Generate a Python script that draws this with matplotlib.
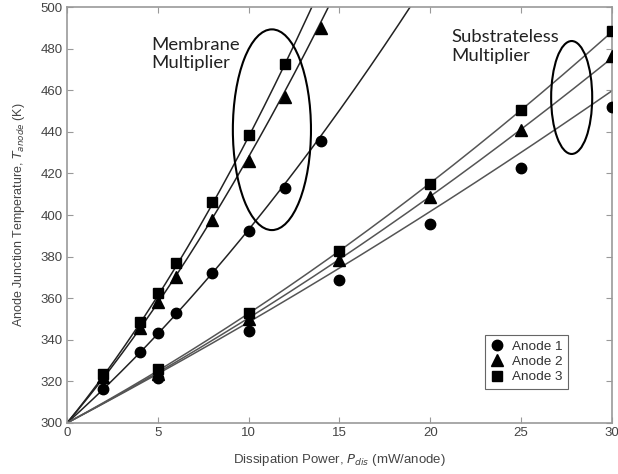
import numpy as np
import matplotlib
matplotlib.use("Agg")
import matplotlib.pyplot as plt
from matplotlib.patches import Ellipse

# ---- data ----
labels = ["Anode 1", "Anode 2", "Anode 3"]
markers = ["o", "^", "s"]

# Membrane multiplier measurements
mem_x1 = [2, 4, 5, 6, 8, 10, 12, 14]
mem_y1 = [316.3, 334.3, 343.1, 352.7, 372.0, 392.3, 413.1, 435.6]
mem_x2 = [2, 4, 5, 6, 8, 10, 12, 14]
mem_y2 = [322.0, 345.5, 358.0, 370.3, 397.6, 426.0, 456.9, 489.7]
mem_x3 = [2, 4, 5, 6, 8, 10, 12]
mem_y3 = [323.4, 348.7, 362.3, 376.8, 406.4, 438.5, 472.6]

# Substrateless multiplier measurements
sub_x = [5, 10, 15, 20, 25, 30]
sub_y1 = [321.8, 344.2, 368.8, 395.7, 422.4, 452.1]
sub_y2 = [323.5, 350.0, 378.4, 408.7, 440.9, 476.4]
sub_y3 = [325.8, 352.7, 382.7, 414.9, 450.5, 488.6]

# Model curves: T = T0 + a*P + b*P^2
T0 = 300.0
mem_a = [7.85, 10.3, 10.7]
mem_b = [0.145, 0.25, 0.307]
sub_a = [4.61, 4.65, 4.77]
sub_b = [0.0238, 0.040, 0.050]

fig = plt.figure(figsize=(6.18, 4.74), dpi=100)
ax = fig.add_axes([0.1084, 0.1076, 0.8819, 0.8776])

P_mem = np.linspace(0, 20, 300)
P_sub = np.linspace(0, 30, 300)
for a, b in zip(mem_a, mem_b):
    ax.plot(P_mem, T0 + a * P_mem + b * P_mem ** 2, color="#222222", lw=1.1, zorder=2)
for a, b in zip(sub_a, sub_b):
    ax.plot(P_sub, T0 + a * P_sub + b * P_sub ** 2, color="#555555", lw=1.1, zorder=2)

mem_sets = [(mem_x1, mem_y1), (mem_x2, mem_y2), (mem_x3, mem_y3)]
sub_sets = [sub_y1, sub_y2, sub_y3]
handles = []
for (mx, my), sy, m, lab in zip(mem_sets, sub_sets, markers, labels):
    ms = 7.5 if m != "^" else 8
    h, = ax.plot(mx, my, linestyle="none", marker=m, color="black", ms=ms, label=lab, zorder=3)
    ax.plot(sub_x, sy, linestyle="none", marker=m, color="black", ms=ms, zorder=3)
    handles.append(h)

# Ellipses
ax.add_patch(Ellipse((11.28, 441), 4.3, 96.5, fill=False, ec="black", lw=1.5, zorder=4))
ax.add_patch(Ellipse((27.78, 456.5), 2.26, 54.3, fill=False, ec="black", lw=1.5, zorder=4))

anno_font = ["Lato", "DejaVu Sans"]
ax.text(4.66, 485.8, "Membrane\nMultiplier", fontsize=13.3, family=anno_font,
        color="#222222", va="top", ha="left", linespacing=1.22)
ax.text(21.15, 489.3, "Substrateless\nMultiplier", fontsize=13.3, family=anno_font,
        color="#222222", va="top", ha="left", linespacing=1.22)

ax.set_xlim(0, 30)
ax.set_ylim(300, 500)
ax.set_xticks(range(0, 31, 5))
ax.set_yticks(range(300, 501, 20))

lab_font = ["Liberation Sans", "DejaVu Sans"]
ax.tick_params(direction="in", length=4, width=0.8, colors="#999999", labelcolor="#444444",
               labelsize=9.5, top=True, right=True, pad=3)
for lab in ax.get_xticklabels() + ax.get_yticklabels():
    lab.set_family(lab_font)
for s in ax.spines.values():
    s.set_color("#999999")
    s.set_linewidth(1.2)

ax.set_xlabel(r"Dissipation Power, $P_{dis}$ (mW/anode)", fontsize=9.5, family=lab_font,
              color="#444444", labelpad=9)
ax.set_ylabel(r"Anode Junction Temperature, $T_{anode}$ (K)", fontsize=9.0, family=lab_font,
              color="#444444", labelpad=10)

leg = ax.legend(handles=handles, loc="lower left", bbox_to_anchor=(0.767, 0.082),
                borderaxespad=0, prop={"family": lab_font, "size": 9.7}, frameon=True,
                fancybox=False, handlelength=1.0, handletextpad=0.6, borderpad=0.4,
                labelspacing=0.22, edgecolor="#666666", framealpha=1)
leg.get_frame().set_linewidth(0.8)
for t in leg.get_texts():
    t.set_color("#333333")

fig.savefig("out.png", dpi=100)
